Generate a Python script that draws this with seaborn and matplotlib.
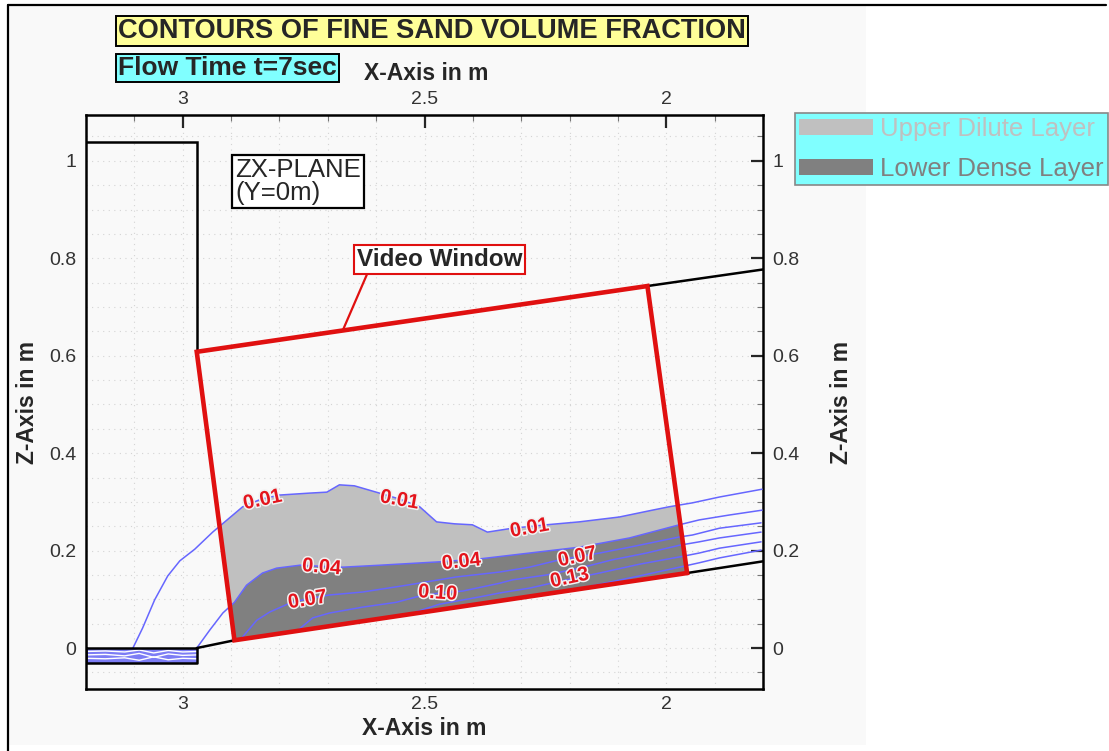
import numpy as np
import pandas as pd
import matplotlib
matplotlib.use("Agg")
import matplotlib.pyplot as plt
import matplotlib.patheffects as pe
from matplotlib.patches import Polygon, Rectangle, Patch
from matplotlib.lines import Line2D
from matplotlib.ticker import MultipleLocator, FuncFormatter
import seaborn as sns

# ---------------- contour lines of fine sand volume fraction (x [m], z [m]) ----------------
levels = [0.01, 0.04, 0.07, 0.10, 0.13, 0.16]

x_001 = [3.103, 3.083, 3.058, 3.031, 3.006, 2.975, 2.938, 2.913, 2.876, 2.837, 2.800, 2.738,
         2.702, 2.676, 2.645, 2.593, 2.552, 2.510, 2.475, 2.438, 2.401, 2.370, 2.318, 2.248,
         2.180, 2.097, 2.029, 1.994, 1.946, 1.890, 1.835, 1.802]
z_001 = [0.000, 0.041, 0.099, 0.148, 0.179, 0.203, 0.238, 0.259, 0.290, 0.306, 0.314, 0.318,
         0.320, 0.335, 0.333, 0.318, 0.306, 0.290, 0.259, 0.255, 0.253, 0.238, 0.246, 0.253,
         0.259, 0.269, 0.283, 0.290, 0.298, 0.310, 0.320, 0.326]

x_004 = [2.971, 2.944, 2.917, 2.893, 2.868, 2.835, 2.806, 2.758, 2.717, 2.669, 2.593, 2.469,
         2.386, 2.283, 2.180, 2.076, 1.973, 1.932, 1.870, 1.802]
z_004 = [0.000, 0.037, 0.072, 0.094, 0.129, 0.154, 0.164, 0.170, 0.168, 0.166, 0.170, 0.177,
         0.183, 0.195, 0.207, 0.226, 0.253, 0.263, 0.273, 0.283]

x_007 = [2.876, 2.847, 2.820, 2.779, 2.742, 2.696, 2.628, 2.537, 2.434, 2.345, 2.283, 2.221,
         2.184, 2.138, 2.076, 1.973, 1.946, 1.890, 1.804]
z_007 = [0.023, 0.057, 0.074, 0.092, 0.101, 0.109, 0.115, 0.129, 0.146, 0.156, 0.166, 0.181,
         0.187, 0.195, 0.207, 0.228, 0.232, 0.246, 0.257]

x_010 = [2.764, 2.731, 2.696, 2.628, 2.558, 2.517, 2.469, 2.421, 2.345, 2.318, 2.248, 2.180,
         2.112, 2.041, 1.973, 1.932, 1.890, 1.804]
z_010 = [0.035, 0.062, 0.072, 0.084, 0.094, 0.105, 0.113, 0.117, 0.133, 0.140, 0.150, 0.164,
         0.181, 0.195, 0.211, 0.218, 0.226, 0.238]

x_013 = [2.531, 2.469, 2.386, 2.345, 2.283, 2.207, 2.138, 2.056, 1.973, 1.932, 1.890, 1.804]
z_013 = [0.070, 0.090, 0.105, 0.113, 0.123, 0.140, 0.154, 0.172, 0.187, 0.195, 0.205, 0.218]

x_016 = [2.283, 2.221, 2.138, 2.056, 1.973, 1.932, 1.890, 1.804]
z_016 = [0.105, 0.115, 0.131, 0.148, 0.166, 0.175, 0.185, 0.201]

# inline contour labels
label_text = ["0.01", "0.01", "0.01", "0.04", "0.04", "0.07", "0.07", "0.10", "0.13"]
label_x = [2.835, 2.552, 2.283, 2.713, 2.424, 2.742, 2.184, 2.473, 2.200]
label_z = [0.304, 0.304, 0.246, 0.166, 0.177, 0.099, 0.187, 0.113, 0.144]
label_rot = [12, -10, 10, -5, 6, 9, 12, -4, 12]

# ---------------- flume geometry ----------------
tank_x = [3.20, 2.971, 2.971]
tank_z = [1.039, 1.039, 0.608]
inlet_x = [3.20, 2.971, 2.971, 3.20]
inlet_z = [0.000, 0.000, -0.031, -0.031]
floor_x = [2.971, 2.893, 1.957, 1.800]
floor_z = [0.000, 0.016, 0.154, 0.178]
roof_x = [2.039, 1.800]
roof_z = [0.743, 0.777]
window_x = [2.971, 2.039, 1.957, 2.893]
window_z = [0.608, 0.743, 0.154, 0.016]

# stratification inside the inlet channel
inlet_line_x = [3.20, 3.16, 3.12, 3.09, 3.06, 3.03, 3.00, 2.971]
inlet_line_z = [[-0.007, -0.006, -0.008, -0.004, -0.010, -0.005, -0.008, -0.007],
                [-0.014, -0.013, -0.016, -0.011, -0.019, -0.012, -0.015, -0.014],
                [-0.021, -0.022, -0.020, -0.025, -0.018, -0.024, -0.021, -0.022]]

legend_labels = ["Upper Dilute Layer", "Lower Dense Layer"]
legend_colors = ["#c0c0c0", "#808080"]

# ---------------- styling ----------------
sns.set_style("white")
plt.rcParams["font.family"] = ["Liberation Sans", "DejaVu Sans"]

W, H = 1109, 751
fig = plt.figure(figsize=(W / 100, H / 100), dpi=100)
fig.patch.set_facecolor("white")


def fx(px):
    return px / W


def fy(py):
    return 1 - py / H


# light panel and frame
fig.add_artist(Rectangle((fx(8), fy(745)), fx(866) - fx(8), fy(5) - fy(745),
                         transform=fig.transFigure, facecolor="#f9f9f9", edgecolor="none", zorder=0))
fig.add_artist(Line2D([fx(8), fx(8)], [fy(5), 0], transform=fig.transFigure, color="black", lw=1.6))
fig.add_artist(Line2D([fx(8), fx(1106)], [fy(5), fy(5)], transform=fig.transFigure, color="black", lw=1.6))

ax = fig.add_axes([fx(86), fy(689), fx(763) - fx(86), fy(115) - fy(689)])
ax.set_facecolor("#f9f9f9")

# ---------------- contour lines ----------------
rows = []
for lev, xs, zs in zip(levels, [x_001, x_004, x_007, x_010, x_013, x_016],
                       [z_001, z_004, z_007, z_010, z_013, z_016]):
    for i, (a, b) in enumerate(zip(xs, zs)):
        rows.append({"x": a, "z": b, "level": lev, "order": i})
df = pd.DataFrame(rows)
sns.lineplot(data=df, x="x", y="z", units="level", estimator=None, sort=False,
             color="#6666ff", linewidth=1.1, ax=ax, zorder=3, legend=False)

ax.set_xlim(3.2, 1.8)
ax.set_ylim(-0.084, 1.094)

fmt = FuncFormatter(lambda v, p: f"{v:g}")
ax.xaxis.set_major_locator(MultipleLocator(0.5))
ax.xaxis.set_minor_locator(MultipleLocator(0.1))
ax.yaxis.set_major_locator(MultipleLocator(0.2))
ax.yaxis.set_minor_locator(MultipleLocator(0.05))
ax.xaxis.set_major_formatter(fmt)
ax.yaxis.set_major_formatter(fmt)
ax.grid(which="both", color="#d4d4d4", linestyle=(0, (1, 4)), linewidth=0.8)
ax.set_axisbelow(True)

for s in ax.spines.values():
    s.set_linewidth(1.8)
    s.set_color("black")

ax.tick_params(which="major", direction="in", length=9, width=1.6, labelsize=14,
               labelcolor="#333333", top=True, right=True, labeltop=True, labelright=True)
ax.tick_params(axis="x", which="major", pad=5)
ax.tick_params(axis="y", which="major", pad=7)
ax.tick_params(which="minor", direction="in", length=4, width=0.8, color="#777777",
               top=True, right=True)

ax.set_xlabel("X-Axis in m", fontsize=16.5, fontweight="bold", labelpad=3)
ax.set_ylabel("Z-Axis in m", fontsize=16.5, fontweight="bold", labelpad=7)

# top / right axis titles
fig.text(fx(426), fy(73), "X-Axis in m", fontsize=16.5, fontweight="bold", ha="center", va="center")
fig.text(fx(842), fy(402), "Z-Axis in m", fontsize=16.5, fontweight="bold", ha="center",
         va="center", rotation=90)

# ---------------- fills clipped to the video window ----------------
window = Polygon(np.column_stack([window_x, window_z]), closed=True, facecolor="none",
                 edgecolor="#e01010", linewidth=3.3, joinstyle="miter", zorder=6)

light_xy = np.column_stack([x_001 + x_004[::-1], z_001 + z_004[::-1]])
dark_xy = np.column_stack([x_004 + [1.80, 2.971], z_004 + [-0.05, -0.05]])
light = Polygon(light_xy, closed=True, facecolor="#c0c0c0", edgecolor="none", zorder=1)
dark = Polygon(dark_xy, closed=True, facecolor="#808080", edgecolor="none", zorder=1.5)
ax.add_patch(light)
ax.add_patch(dark)
clip = Polygon(np.column_stack([window_x, window_z]), closed=True, transform=ax.transData)
light.set_clip_path(clip)
dark.set_clip_path(clip)

# inlet channel
ax.add_patch(Polygon(np.column_stack([inlet_x, inlet_z]), closed=True, facecolor="#7c7cf5",
                     edgecolor="none", zorder=2))
for zz in inlet_line_z:
    ax.plot(inlet_line_x, zz, color="white", lw=1.0, zorder=2.5)

# ---------------- flume outline ----------------
ax.plot(tank_x, tank_z, color="black", lw=1.8, zorder=4, solid_joinstyle="miter")
ax.plot(inlet_x + [inlet_x[0]], inlet_z + [inlet_z[0]], color="black", lw=1.8, zorder=4)
ax.plot(floor_x, floor_z, color="black", lw=1.8, zorder=4)
ax.plot(roof_x, roof_z, color="black", lw=1.8, zorder=4)
ax.add_patch(window)

# contour labels
for t, lx, lz, r in zip(label_text, label_x, label_z, label_rot):
    ax.text(lx, lz, t, color="#e4141c", fontsize=14.5, fontweight="bold", ha="center",
            va="center", rotation=r, rotation_mode="anchor", zorder=7,
            path_effects=[pe.withStroke(linewidth=2.2, foreground="#f2f2f2")])

# annotations
ax.annotate("Video Window", xy=(2.669, 0.652), xytext=(2.469, 0.797), ha="center", va="center",
            fontsize=17.5, fontweight="bold", zorder=8,
            bbox=dict(boxstyle="square,pad=0.12", facecolor="white", edgecolor="#e01010", lw=1.5),
            arrowprops=dict(arrowstyle="-", color="#e01010", lw=1.6, relpos=(0.07, 0.0),
                            shrinkA=0, shrinkB=0))
ax.text(2.891, 0.957, "ZX-PLANE\n(Y=0m)", fontsize=18.5, ha="left", va="center", linespacing=0.95,
        zorder=8, bbox=dict(boxstyle="square,pad=0.12", facecolor="white", edgecolor="black", lw=1.6))

# header boxes
fig.text(fx(118), fy(31), "CONTOURS OF FINE SAND VOLUME FRACTION", fontsize=19.6, fontweight="bold",
         ha="left", va="center",
         bbox=dict(boxstyle="square,pad=0.08", facecolor="#ffff99", edgecolor="black", lw=1.4))
fig.text(fx(118), fy(68), "Flow Time t=7sec", fontsize=19, fontweight="bold", ha="left",
         va="center",
         bbox=dict(boxstyle="square,pad=0.08", facecolor="#80ffff", edgecolor="black", lw=1.4))

# layer legend
handles = [Patch(facecolor=c, edgecolor="none") for c in legend_colors]
leg = fig.legend(handles, legend_labels, loc="upper left", bbox_to_anchor=(fx(795), fy(113)),
                 borderaxespad=0, fontsize=18.5, frameon=True, fancybox=False, framealpha=1,
                 facecolor="#80ffff", edgecolor="#888888", handlelength=2.9, handleheight=0.58,
                 handletextpad=0.27, labelspacing=0.62, borderpad=0.15)
leg.get_frame().set_linewidth(1.2)
for txt, c in zip(leg.get_texts(), ["#c0c0c0", "#808080"]):
    txt.set_color(c)

fig.savefig("out.png", dpi=100, facecolor=fig.get_facecolor())
